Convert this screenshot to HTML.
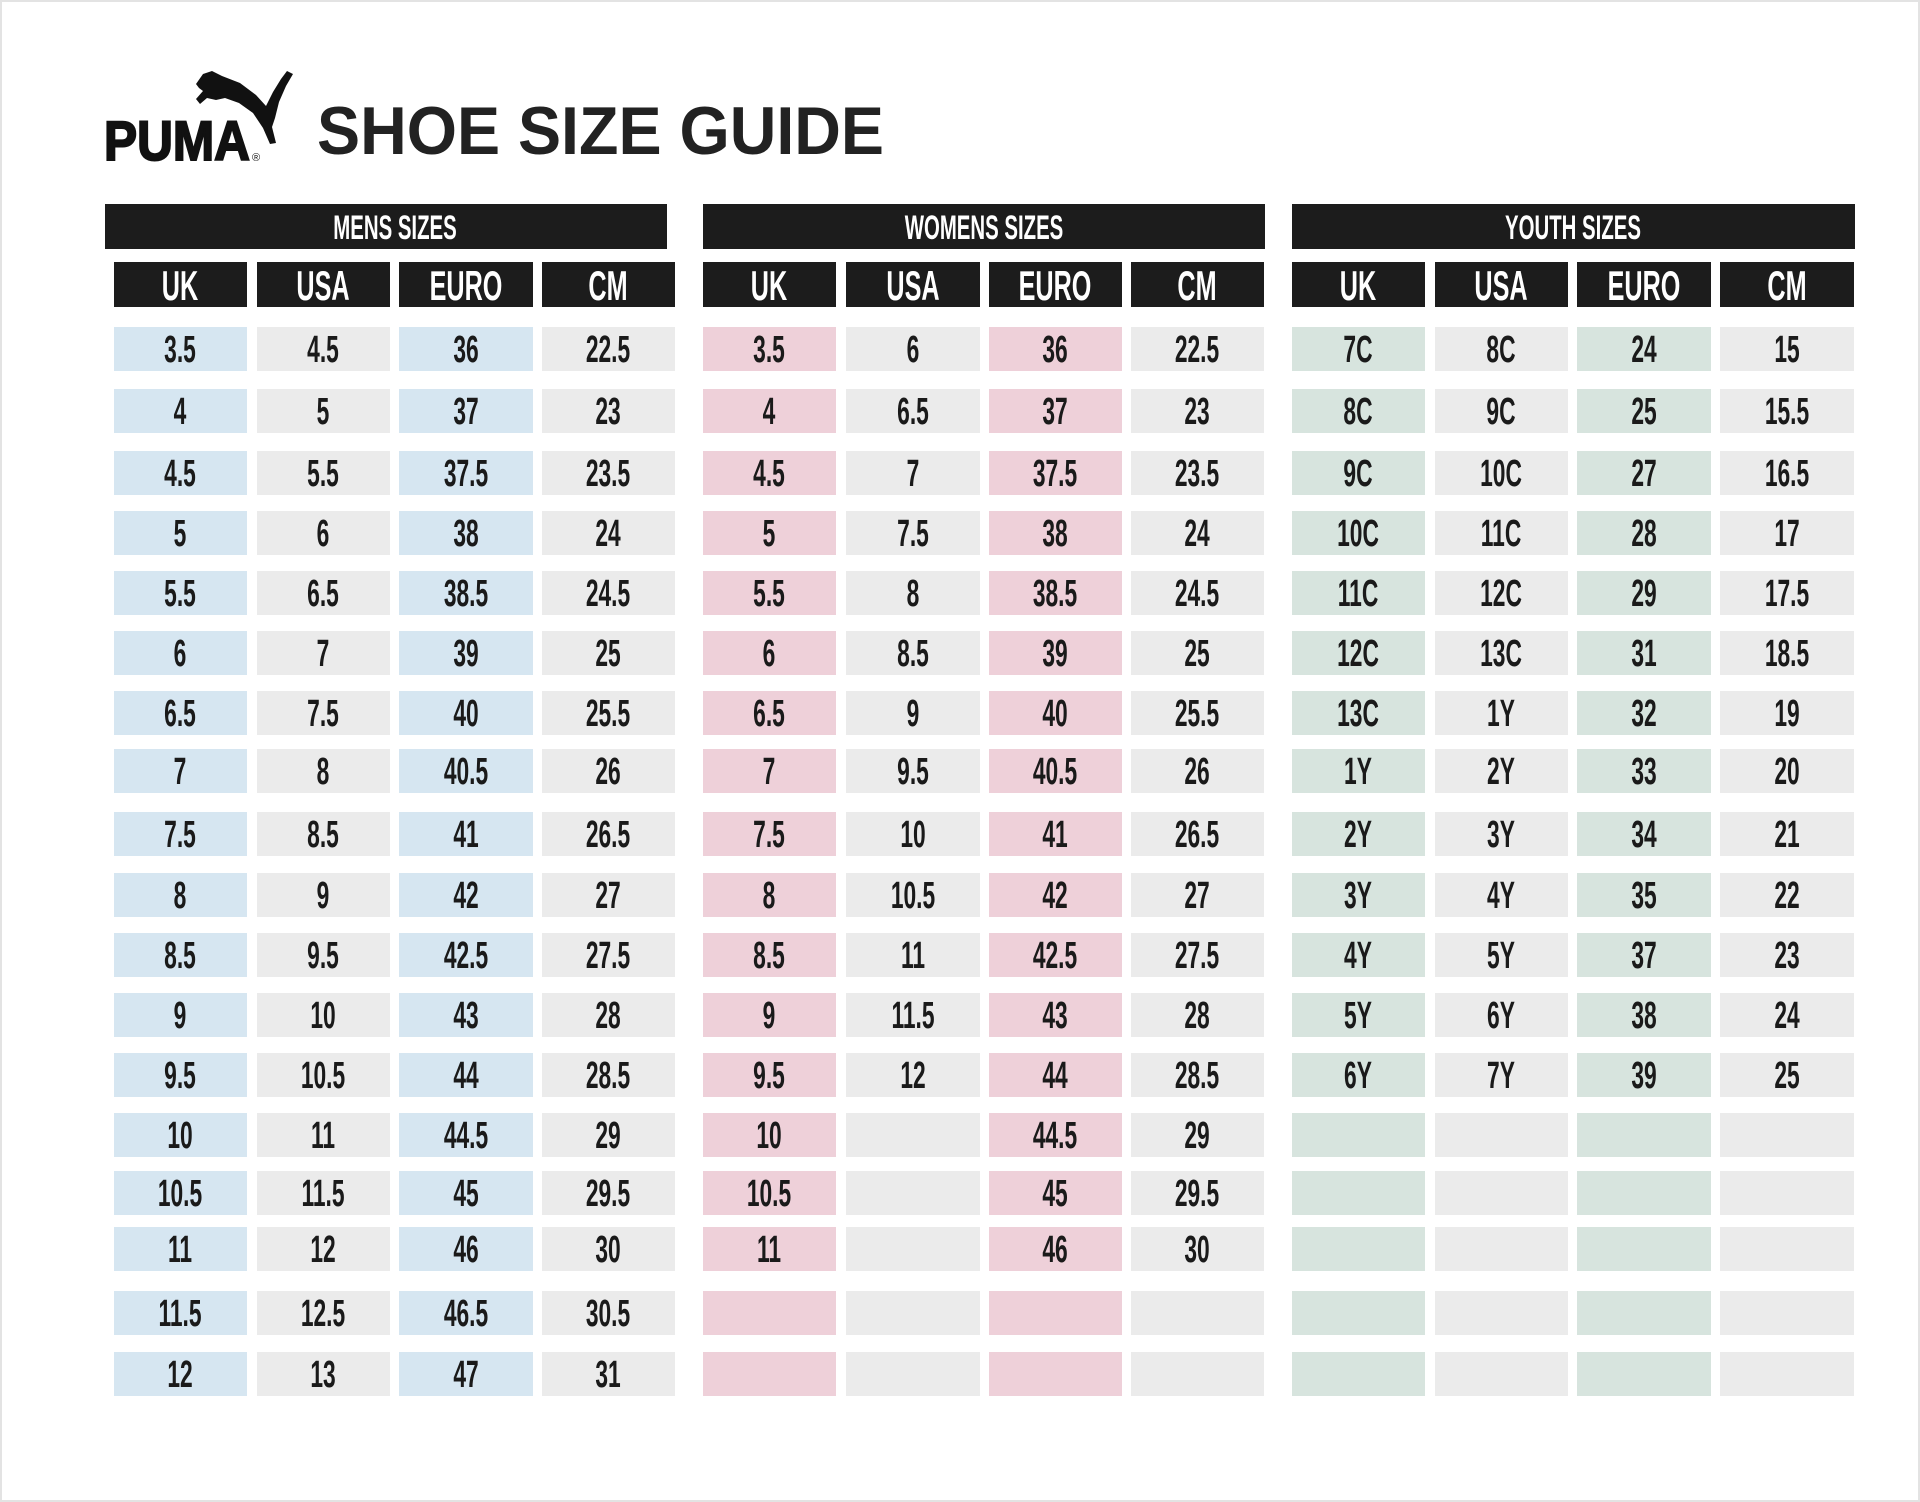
<!DOCTYPE html>
<html><head><meta charset="utf-8"><style>
html,body{margin:0;padding:0;background:#fff}
svg{display:block}
text{font-family:"Liberation Sans",sans-serif}
.n{font-size:38px;fill:#1a1a1a;text-anchor:middle;font-weight:bold}
.h{font-size:42px;fill:#fff;text-anchor:middle;font-weight:bold}
.g{font-size:34px;fill:#fff;text-anchor:middle;font-weight:bold}
</style></head><body>
<svg width="1920" height="1502" viewBox="0 0 1920 1502" xmlns="http://www.w3.org/2000/svg">
<rect x="1" y="1" width="1918" height="1500" fill="#fff" stroke="#e3e3e3" stroke-width="2"/>
<!-- logo -->
<text x="104" y="160" textLength="146" lengthAdjust="spacingAndGlyphs" style="font-size:56px;font-weight:900;fill:#111;stroke:#111;stroke-width:2">PUMA</text>
<text x="252" y="161" style="font-size:11px;fill:#111">®</text>
<path d="M196,84 L203,74 L212,71 L222,76 L240,83 L256,95 L266,106 L273,92 L281,79 L287,71 L293,74 L286,86 L279,102 L275,118 L272,127 L276,143 L270,144 L263,128 L253,113 L239,103 L225,98 L216,100 L207,98 L200,104 L196,99 L203,91 L199,88 Z" fill="#111"/>
<text x="317" y="154" textLength="567" lengthAdjust="spacingAndGlyphs" style="font-size:68px;font-weight:bold;fill:#222">SHOE SIZE GUIDE</text>
<!-- section headers -->
<rect x="105" y="204" width="562" height="45" fill="#1c1c1c"/>
<rect x="703" y="204" width="562" height="45" fill="#1c1c1c"/>
<rect x="1292" y="204" width="563" height="45" fill="#1c1c1c"/>
<g transform="translate(395,239) scale(0.6,1)"><text class="g" x="0" y="0">MENS SIZES</text></g>
<g transform="translate(984,239) scale(0.6,1)"><text class="g" x="0" y="0">WOMENS SIZES</text></g>
<g transform="translate(1573,239) scale(0.6,1)"><text class="g" x="0" y="0">YOUTH SIZES</text></g>
<!-- column headers -->
<g fill="#1c1c1c">
<rect x="114" y="262" width="133" height="45"/><rect x="257" y="262" width="133" height="45"/><rect x="399" y="262" width="134" height="45"/><rect x="542" y="262" width="133" height="45"/>
<rect x="703" y="262" width="133" height="45"/><rect x="846" y="262" width="134" height="45"/><rect x="989" y="262" width="133" height="45"/><rect x="1131" y="262" width="133" height="45"/>
<rect x="1292" y="262" width="133" height="45"/><rect x="1435" y="262" width="133" height="45"/><rect x="1577" y="262" width="134" height="45"/><rect x="1720" y="262" width="134" height="45"/>
</g>
<g transform="translate(180,300) scale(0.6,1)"><text class="h">UK</text></g>
<g transform="translate(323,300) scale(0.6,1)"><text class="h">USA</text></g>
<g transform="translate(466,300) scale(0.6,1)"><text class="h">EURO</text></g>
<g transform="translate(608,300) scale(0.6,1)"><text class="h">CM</text></g>
<g transform="translate(769,300) scale(0.6,1)"><text class="h">UK</text></g>
<g transform="translate(913,300) scale(0.6,1)"><text class="h">USA</text></g>
<g transform="translate(1055,300) scale(0.6,1)"><text class="h">EURO</text></g>
<g transform="translate(1197,300) scale(0.6,1)"><text class="h">CM</text></g>
<g transform="translate(1358,300) scale(0.6,1)"><text class="h">UK</text></g>
<g transform="translate(1501,300) scale(0.6,1)"><text class="h">USA</text></g>
<g transform="translate(1644,300) scale(0.6,1)"><text class="h">EURO</text></g>
<g transform="translate(1787,300) scale(0.6,1)"><text class="h">CM</text></g>
<defs>
<g id="row">
<rect x="114" y="0" width="133" height="44" fill="#d6e6f1"/>
<rect x="257" y="0" width="133" height="44" fill="#ebebeb"/>
<rect x="399" y="0" width="134" height="44" fill="#d6e6f1"/>
<rect x="542" y="0" width="133" height="44" fill="#ebebeb"/>
<rect x="703" y="0" width="133" height="44" fill="#eed0d9"/>
<rect x="846" y="0" width="134" height="44" fill="#ebebeb"/>
<rect x="989" y="0" width="133" height="44" fill="#eed0d9"/>
<rect x="1131" y="0" width="133" height="44" fill="#ebebeb"/>
<rect x="1292" y="0" width="133" height="44" fill="#d7e4de"/>
<rect x="1435" y="0" width="133" height="44" fill="#ebebeb"/>
<rect x="1577" y="0" width="134" height="44" fill="#d7e4de"/>
<rect x="1720" y="0" width="134" height="44" fill="#ebebeb"/>
</g>
</defs>
<use href="#row" y="327"/><use href="#row" y="389"/><use href="#row" y="451"/><use href="#row" y="511"/><use href="#row" y="571"/><use href="#row" y="631"/><use href="#row" y="691"/><use href="#row" y="749"/><use href="#row" y="812"/><use href="#row" y="873"/><use href="#row" y="933"/><use href="#row" y="993"/><use href="#row" y="1053"/><use href="#row" y="1113"/><use href="#row" y="1171"/><use href="#row" y="1227"/><use href="#row" y="1291"/><use href="#row" y="1352"/>
<!-- Mens -->
<g transform="translate(180,0) scale(0.6,1)" class="n">
<text y="362">3.5</text><text y="424">4</text><text y="486">4.5</text><text y="546">5</text><text y="606">5.5</text><text y="666">6</text><text y="726">6.5</text><text y="784">7</text><text y="847">7.5</text><text y="908">8</text><text y="968">8.5</text><text y="1028">9</text><text y="1088">9.5</text><text y="1148">10</text><text y="1206">10.5</text><text y="1262">11</text><text y="1326">11.5</text><text y="1387">12</text>
</g>
<g transform="translate(323,0) scale(0.6,1)" class="n">
<text y="362">4.5</text><text y="424">5</text><text y="486">5.5</text><text y="546">6</text><text y="606">6.5</text><text y="666">7</text><text y="726">7.5</text><text y="784">8</text><text y="847">8.5</text><text y="908">9</text><text y="968">9.5</text><text y="1028">10</text><text y="1088">10.5</text><text y="1148">11</text><text y="1206">11.5</text><text y="1262">12</text><text y="1326">12.5</text><text y="1387">13</text>
</g>
<g transform="translate(466,0) scale(0.6,1)" class="n">
<text y="362">36</text><text y="424">37</text><text y="486">37.5</text><text y="546">38</text><text y="606">38.5</text><text y="666">39</text><text y="726">40</text><text y="784">40.5</text><text y="847">41</text><text y="908">42</text><text y="968">42.5</text><text y="1028">43</text><text y="1088">44</text><text y="1148">44.5</text><text y="1206">45</text><text y="1262">46</text><text y="1326">46.5</text><text y="1387">47</text>
</g>
<g transform="translate(608,0) scale(0.6,1)" class="n">
<text y="362">22.5</text><text y="424">23</text><text y="486">23.5</text><text y="546">24</text><text y="606">24.5</text><text y="666">25</text><text y="726">25.5</text><text y="784">26</text><text y="847">26.5</text><text y="908">27</text><text y="968">27.5</text><text y="1028">28</text><text y="1088">28.5</text><text y="1148">29</text><text y="1206">29.5</text><text y="1262">30</text><text y="1326">30.5</text><text y="1387">31</text>
</g>
<!-- Womens -->
<g transform="translate(769,0) scale(0.6,1)" class="n">
<text y="362">3.5</text><text y="424">4</text><text y="486">4.5</text><text y="546">5</text><text y="606">5.5</text><text y="666">6</text><text y="726">6.5</text><text y="784">7</text><text y="847">7.5</text><text y="908">8</text><text y="968">8.5</text><text y="1028">9</text><text y="1088">9.5</text><text y="1148">10</text><text y="1206">10.5</text><text y="1262">11</text>
</g>
<g transform="translate(913,0) scale(0.6,1)" class="n">
<text y="362">6</text><text y="424">6.5</text><text y="486">7</text><text y="546">7.5</text><text y="606">8</text><text y="666">8.5</text><text y="726">9</text><text y="784">9.5</text><text y="847">10</text><text y="908">10.5</text><text y="968">11</text><text y="1028">11.5</text><text y="1088">12</text>
</g>
<g transform="translate(1055,0) scale(0.6,1)" class="n">
<text y="362">36</text><text y="424">37</text><text y="486">37.5</text><text y="546">38</text><text y="606">38.5</text><text y="666">39</text><text y="726">40</text><text y="784">40.5</text><text y="847">41</text><text y="908">42</text><text y="968">42.5</text><text y="1028">43</text><text y="1088">44</text><text y="1148">44.5</text><text y="1206">45</text><text y="1262">46</text>
</g>
<g transform="translate(1197,0) scale(0.6,1)" class="n">
<text y="362">22.5</text><text y="424">23</text><text y="486">23.5</text><text y="546">24</text><text y="606">24.5</text><text y="666">25</text><text y="726">25.5</text><text y="784">26</text><text y="847">26.5</text><text y="908">27</text><text y="968">27.5</text><text y="1028">28</text><text y="1088">28.5</text><text y="1148">29</text><text y="1206">29.5</text><text y="1262">30</text>
</g>
<!-- Youth -->
<g transform="translate(1358,0) scale(0.6,1)" class="n">
<text y="362">7C</text><text y="424">8C</text><text y="486">9C</text><text y="546">10C</text><text y="606">11C</text><text y="666">12C</text><text y="726">13C</text><text y="784">1Y</text><text y="847">2Y</text><text y="908">3Y</text><text y="968">4Y</text><text y="1028">5Y</text><text y="1088">6Y</text>
</g>
<g transform="translate(1501,0) scale(0.6,1)" class="n">
<text y="362">8C</text><text y="424">9C</text><text y="486">10C</text><text y="546">11C</text><text y="606">12C</text><text y="666">13C</text><text y="726">1Y</text><text y="784">2Y</text><text y="847">3Y</text><text y="908">4Y</text><text y="968">5Y</text><text y="1028">6Y</text><text y="1088">7Y</text>
</g>
<g transform="translate(1644,0) scale(0.6,1)" class="n">
<text y="362">24</text><text y="424">25</text><text y="486">27</text><text y="546">28</text><text y="606">29</text><text y="666">31</text><text y="726">32</text><text y="784">33</text><text y="847">34</text><text y="908">35</text><text y="968">37</text><text y="1028">38</text><text y="1088">39</text>
</g>
<g transform="translate(1787,0) scale(0.6,1)" class="n">
<text y="362">15</text><text y="424">15.5</text><text y="486">16.5</text><text y="546">17</text><text y="606">17.5</text><text y="666">18.5</text><text y="726">19</text><text y="784">20</text><text y="847">21</text><text y="908">22</text><text y="968">23</text><text y="1028">24</text><text y="1088">25</text>
</g>
</svg>
</body></html>
